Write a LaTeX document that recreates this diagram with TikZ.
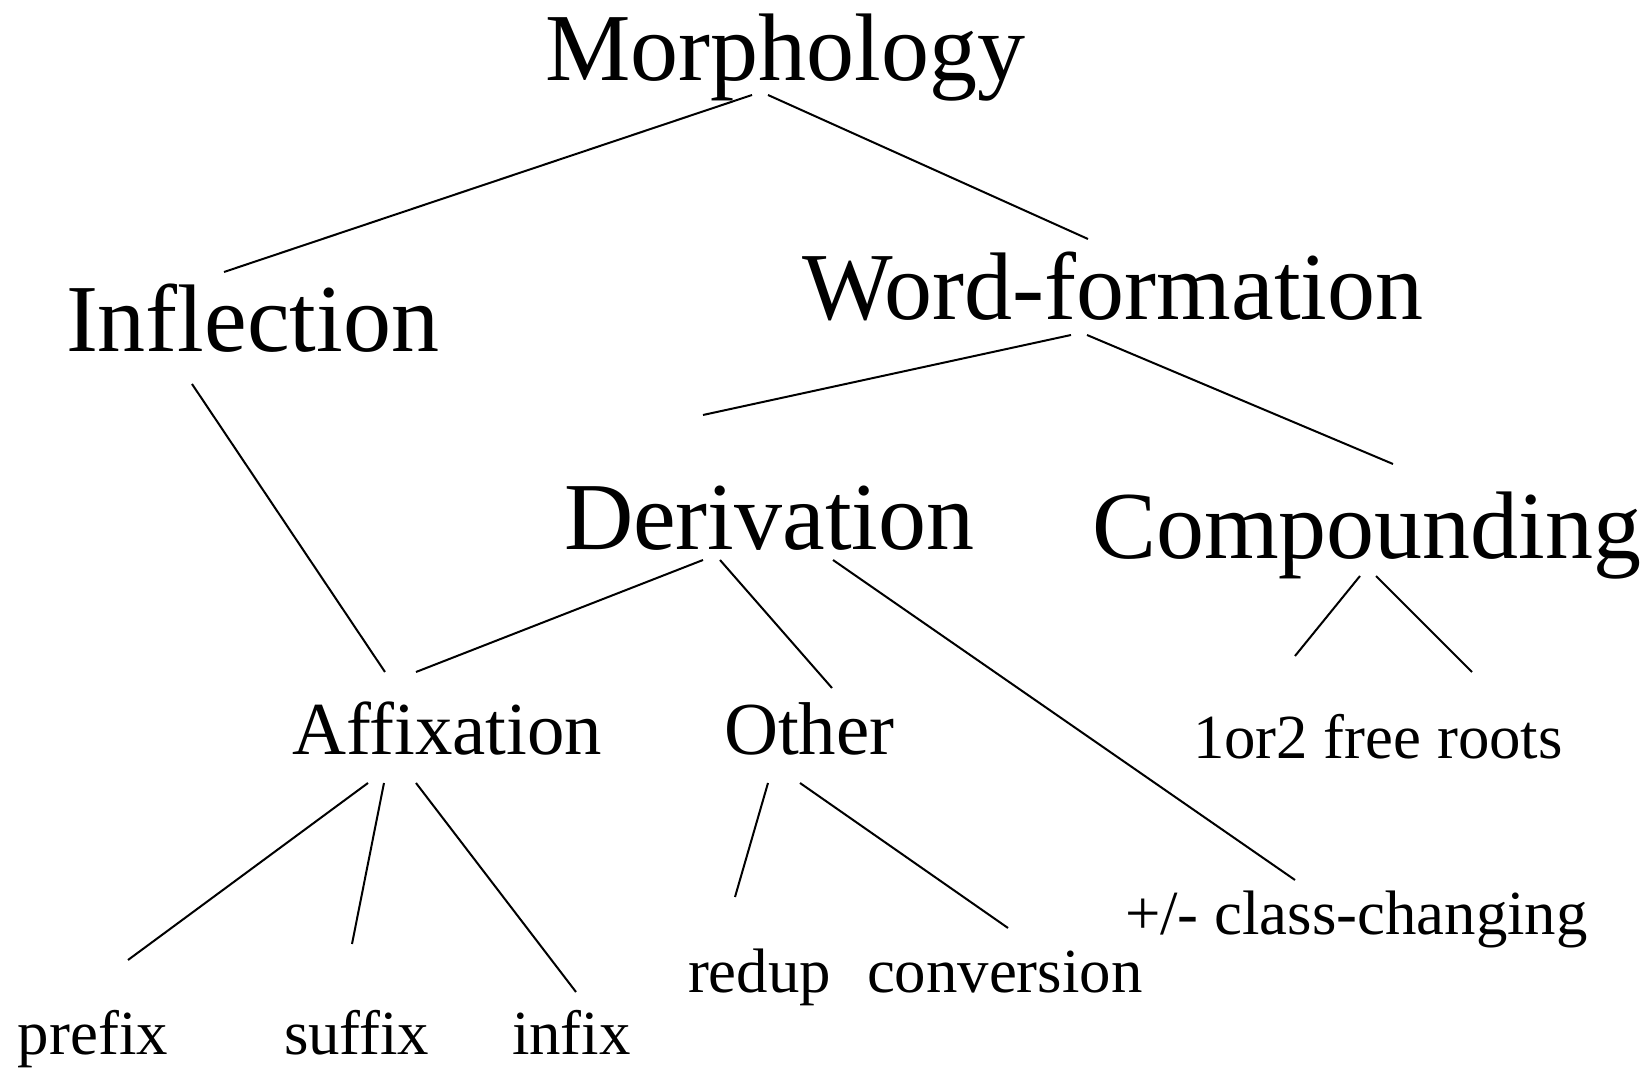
\documentclass[tikz,border=0pt]{standalone}
\usepackage{fontspec}
\setmainfont{Liberation Serif}
\begin{document}
\begin{tikzpicture}[x=0.5pt,y=-0.5pt,
  lbl/.style={anchor=base west,inner sep=0pt,outer sep=0pt},
  big/.style={lbl,font=\fontsize{48pt}{50pt}\selectfont},
  mid/.style={lbl,font=\fontsize{37.4pt}{40pt}\selectfont},
  small/.style={lbl,font=\fontsize{31.4pt}{34pt}\selectfont},
  edge/.style={draw,line width=1pt}]
\useasboundingbox[fill=white] (0,0) rectangle (1646,1068);
% labels
\node[big] (morph) at (545,81) {Morphology};
\node[big] (infl) at (66,352) {Inflection};
\node[big] (wf) at (802,320) {Word-formation};
\node[big] (deriv) at (564,550) {Derivation};
\node[big] (comp) at (1092,559) {Compounding};
\node[mid] (affix) at (292,755) {Affixation};
\node[mid] (other) at (724,755) {Other};
\node[small] (roots) at (1193,759) {1or2 free roots};
\node[small] (class) at (1125,935) {+/- class-changing};
\node[small] (redup) at (688,993) {redup};
\node[small] (conv) at (867,993) {conversion};
\node[small] (prefix) at (18,1055) {prefix};
\node[small] (suffix) at (284,1055) {suffix};
\node[small] (infix) at (512,1055) {infix};
% connector ends
\coordinate (m1) at (752,95);   \coordinate (i1) at (224,272);
\coordinate (m2) at (768,95);   \coordinate (w1) at (1088,239);
\coordinate (i2) at (192,384);  \coordinate (a1) at (385,672);
\coordinate (w2) at (1071,335); \coordinate (d1) at (703,415);
\coordinate (w3) at (1087,335); \coordinate (c1) at (1393,464);
\coordinate (d2) at (703,560);  \coordinate (a2) at (416,672);
\coordinate (d3) at (720,560);  \coordinate (o1) at (832,688);
\coordinate (d4) at (833,560);  \coordinate (k1) at (1295,880);
\coordinate (c2) at (1360,576); \coordinate (r1) at (1295,656);
\coordinate (c3) at (1376,576); \coordinate (r2) at (1472,672);
\coordinate (a3) at (368,783);  \coordinate (p1) at (128,960);
\coordinate (a4) at (384,783);  \coordinate (s1) at (352,944);
\coordinate (a5) at (416,783);  \coordinate (n1) at (576,992);
\coordinate (o2) at (768,783);  \coordinate (u1) at (735,897);
\coordinate (o3) at (800,783);  \coordinate (v1) at (1008,928);
\path[edge] (m1) -- (i1);
\path[edge] (m2) -- (w1);
\path[edge] (i2) -- (a1);
\path[edge] (w2) -- (d1);
\path[edge] (w3) -- (c1);
\path[edge] (d2) -- (a2);
\path[edge] (d3) -- (o1);
\path[edge] (d4) -- (k1);
\path[edge] (c2) -- (r1);
\path[edge] (c3) -- (r2);
\path[edge] (a3) -- (p1);
\path[edge] (a4) -- (s1);
\path[edge] (a5) -- (n1);
\path[edge] (o2) -- (u1);
\path[edge] (o3) -- (v1);
\end{tikzpicture}
\end{document}
